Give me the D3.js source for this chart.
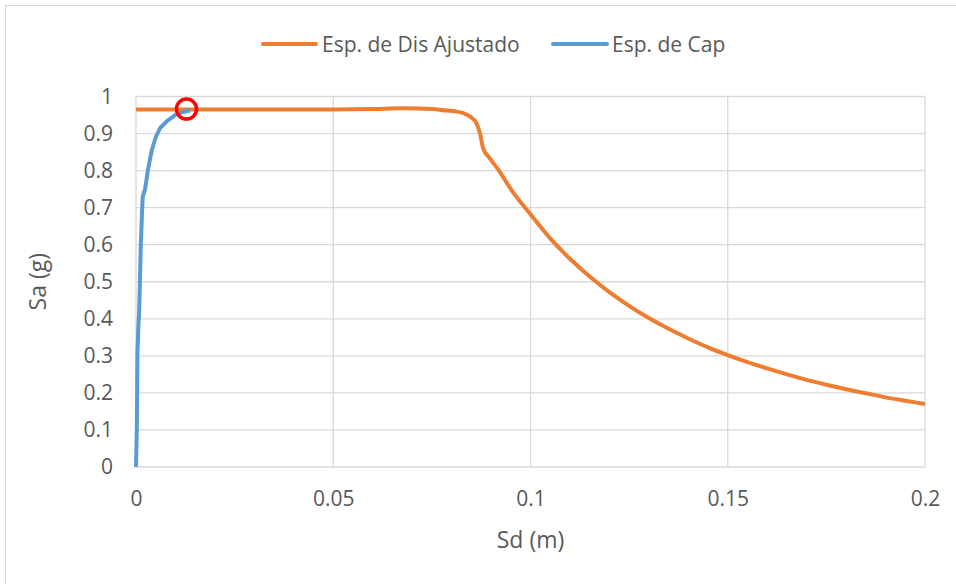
<!DOCTYPE html>
<html><head><meta charset="utf-8">
<script src="https://cdn.jsdelivr.net/npm/d3@7"></script>
<style>body{margin:0;background:#fff}svg{display:block}text{font-family:"Open Sans",sans-serif;fill:#595959}</style>
</head><body><svg id="c" width="956" height="584"></svg>
<script>
const xTicks=[0,0.05,0.1,0.15,0.2];
const yTicks=[0,0.1,0.2,0.3,0.4,0.5,0.6,0.7,0.8,0.9,1];
const seriesNames=["Esp. de Dis Ajustado","Esp. de Cap"];
const demandSd=[0,0.02,0.04,0.05,0.06,0.068,0.075,0.0788,0.081,0.083,0.0848,0.0863,0.0872,0.088,0.0897,0.092,0.095,0.1,0.105,0.11,0.115,0.12,0.125,0.13,0.135,0.14,0.145,0.15,0.155,0.16,0.165,0.17,0.175,0.18,0.185,0.19,0.195,0.2];
const demandSa=[0.965,0.965,0.965,0.965,0.966,0.968,0.966,0.962,0.960,0.955,0.945,0.928,0.900,0.860,0.833,0.800,0.750,0.682,0.617,0.562,0.514,0.472,0.435,0.402,0.373,0.347,0.323,0.302,0.283,0.266,0.250,0.235,0.222,0.210,0.199,0.188,0.179,0.170];
const capSd=[0,0.0002,0.0003,0.00035,0.0006,0.0008,0.0010,0.0012,0.0015,0.0017,0.0020,0.0023,0.0030,0.0040,0.0050,0.0061,0.0080,0.0099,0.0112,0.0125,0.0137];
const capSa=[0,0.10,0.22,0.30,0.38,0.42,0.50,0.595,0.68,0.73,0.74,0.75,0.80,0.855,0.89,0.915,0.935,0.950,0.956,0.960,0.962];
const perfPoint=[0.0128,0.966];
const colors=["#ED7D31","#5B9BD5"];

const svg=d3.select("#c");
svg.append("rect").attr("x",5.5).attr("y",5.5).attr("width",970).attr("height",600).attr("fill","#fff").attr("stroke","#d9d9d9");
const m={l:136,r:925,t:96.5,b:467};
const x=d3.scaleLinear().domain([0,0.2]).range([m.l,m.r]);
const y=d3.scaleLinear().domain([0,1]).range([m.b,m.t]);
const g=svg.append("g");
g.selectAll(".hg").data(yTicks).join("line").attr("x1",m.l).attr("x2",m.r).attr("y1",d=>y(d)).attr("y2",d=>y(d)).attr("stroke","#d9d9d9").attr("stroke-width",1.3);
g.selectAll(".vg").data(xTicks).join("line").attr("y1",m.t).attr("y2",m.b).attr("x1",d=>x(d)).attr("x2",d=>x(d)).attr("stroke","#d9d9d9").attr("stroke-width",1.3);
const xa=svg.append("g").attr("transform",`translate(0,${m.b})`).call(d3.axisBottom(x).tickValues(xTicks).tickSize(0).tickPadding(24).tickFormat(d=>String(+d.toFixed(2))));
const ya=svg.append("g").attr("transform",`translate(${m.l},0)`).call(d3.axisLeft(y).tickValues(yTicks).tickSize(0).tickPadding(23).tickFormat(d=>String(+d.toFixed(1))));
[xa,ya].forEach(a=>{a.select(".domain").remove();a.selectAll("text").attr("font-size",21).attr("font-family","Open Sans").attr("fill","#595959");});
const line=d3.line().x(d=>x(d[0])).y(d=>y(d[1]));
svg.append("path").datum(demandSd.map((d,i)=>[d,demandSa[i]])).attr("d",line.curve(d3.curveMonotoneX)).attr("fill","none").attr("stroke",colors[0]).attr("stroke-width",4).attr("stroke-linejoin","round");
svg.append("path").datum(capSd.map((d,i)=>[d,capSa[i]])).attr("d",d3.line().x(d=>x(d[0])).y(d=>y(d[1]))).attr("fill","none").attr("stroke",colors[1]).attr("stroke-width",4).attr("stroke-linejoin","round");
svg.append("circle").attr("cx",x(perfPoint[0])).attr("cy",y(perfPoint[1])).attr("r",10).attr("fill","none").attr("stroke","#FF0000").attr("stroke-width",3.5);
svg.append("text").attr("x",(m.l+m.r)/2).attr("y",548).attr("text-anchor","middle").attr("font-size",23).text("Sd (m)");
svg.append("text").attr("transform",`translate(46,${(m.t+m.b)/2}) rotate(-90)`).attr("text-anchor","middle").attr("font-size",23).text("Sa (g)");
const lg=[{x1:263,x2:316,tx:322},{x1:553,x2:607,tx:612}];
lg.forEach((L,i)=>{svg.append("line").attr("x1",L.x1).attr("x2",L.x2).attr("y1",44).attr("y2",44).attr("stroke",colors[i]).attr("stroke-width",4).attr("stroke-linecap","round");
svg.append("text").attr("x",L.tx).attr("y",51.5).attr("font-size",21).text(seriesNames[i]);});
</script></body></html>
